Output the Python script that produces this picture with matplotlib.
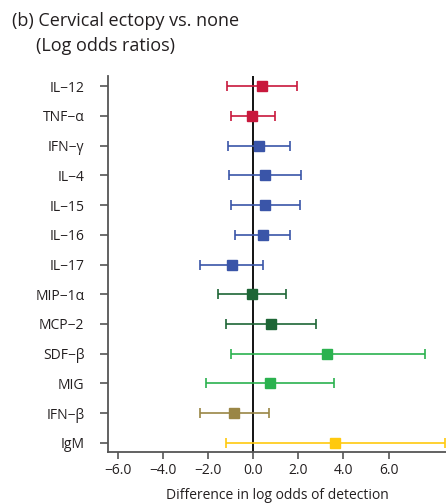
import matplotlib
matplotlib.use("Agg")
import matplotlib.pyplot as plt

labels = ["IL\u221212", "TNF\u2212\u03b1", "IFN\u2212\u03b3", "IL\u22124", "IL\u221215", "IL\u221216", "IL\u221217",
          "MIP\u22121\u03b1", "MCP\u22122", "SDF\u2212\u03b2", "MIG", "IFN\u2212\u03b2", "IgM"]
estimate = [0.40, -0.05, 0.25, 0.50, 0.52, 0.42, -0.93, -0.06, 0.80, 3.29, 0.73, -0.86, 3.61]
lower = [-1.17, -1.00, -1.13, -1.08, -1.00, -0.83, -2.36, -1.57, -1.20, -0.99, -2.12, -2.36, -1.23]
upper = [1.95, 0.95, 1.65, 2.10, 2.05, 1.65, 0.45, 1.45, 2.80, 7.60, 3.57, 0.68, 8.49]
colors = ["#c8183c", "#c8183c", "#3a55a8", "#3a55a8", "#3a55a8", "#3a55a8", "#3a55a8",
          "#1e6636", "#1e6636", "#2bb24f", "#2bb24f", "#9a8646", "#ffc90e"]
xticks = [-6.0, -4.0, -2.0, 0.0, 2.0, 4.0, 6.0]

plt.rcParams['font.family'] = ['Open Sans', 'DejaVu Sans']
fig = plt.figure(figsize=(4.46, 5.04), dpi=100)
ax = fig.add_axes([0.242, 0.103, 0.758, 0.746])

ax.axvline(0, color="black", lw=1.3, zorder=1)
for i, (e, lo, hi, c) in enumerate(zip(estimate, lower, upper, colors)):
    ax.errorbar([e], [i], xerr=[[e - lo], [hi - e]], fmt="s", color=c, ecolor=c,
                markersize=7, capsize=3.5, elinewidth=1.2, capthick=1.2, zorder=3,
                markeredgecolor=c)

ax.set_ylim(12.31, -0.34)
ax.set_xlim(-6.45, 8.55)
ax.set_yticks(range(len(labels)))
ax.set_yticklabels(labels, fontsize=10, color="#231f20")
ax.set_xticks(xticks)
ax.set_xticklabels([f"{t:.1f}".replace("-", "\u2212") for t in xticks], fontsize=10, color="#231f20")
ax.tick_params(axis="y", length=6, width=1.2, color="#555555", pad=11)
ax.tick_params(axis="x", length=5, width=1.2, color="#555555", pad=3)
for s in ["top", "right"]:
    ax.spines[s].set_visible(False)
for s in ["left", "bottom"]:
    ax.spines[s].set_color("#555555")
    ax.spines[s].set_linewidth(1.3)

ax.set_xlabel("Difference in log odds of detection", fontsize=10, color="#231f20", labelpad=7)
fig.text(0.027, 0.958, "(b) Cervical ectopy vs. none", fontsize=13, color="#231f20", va="center")
fig.text(0.081, 0.908, "(Log odds ratios)", fontsize=13, color="#231f20", va="center")

fig.savefig("out.png", dpi=100)
